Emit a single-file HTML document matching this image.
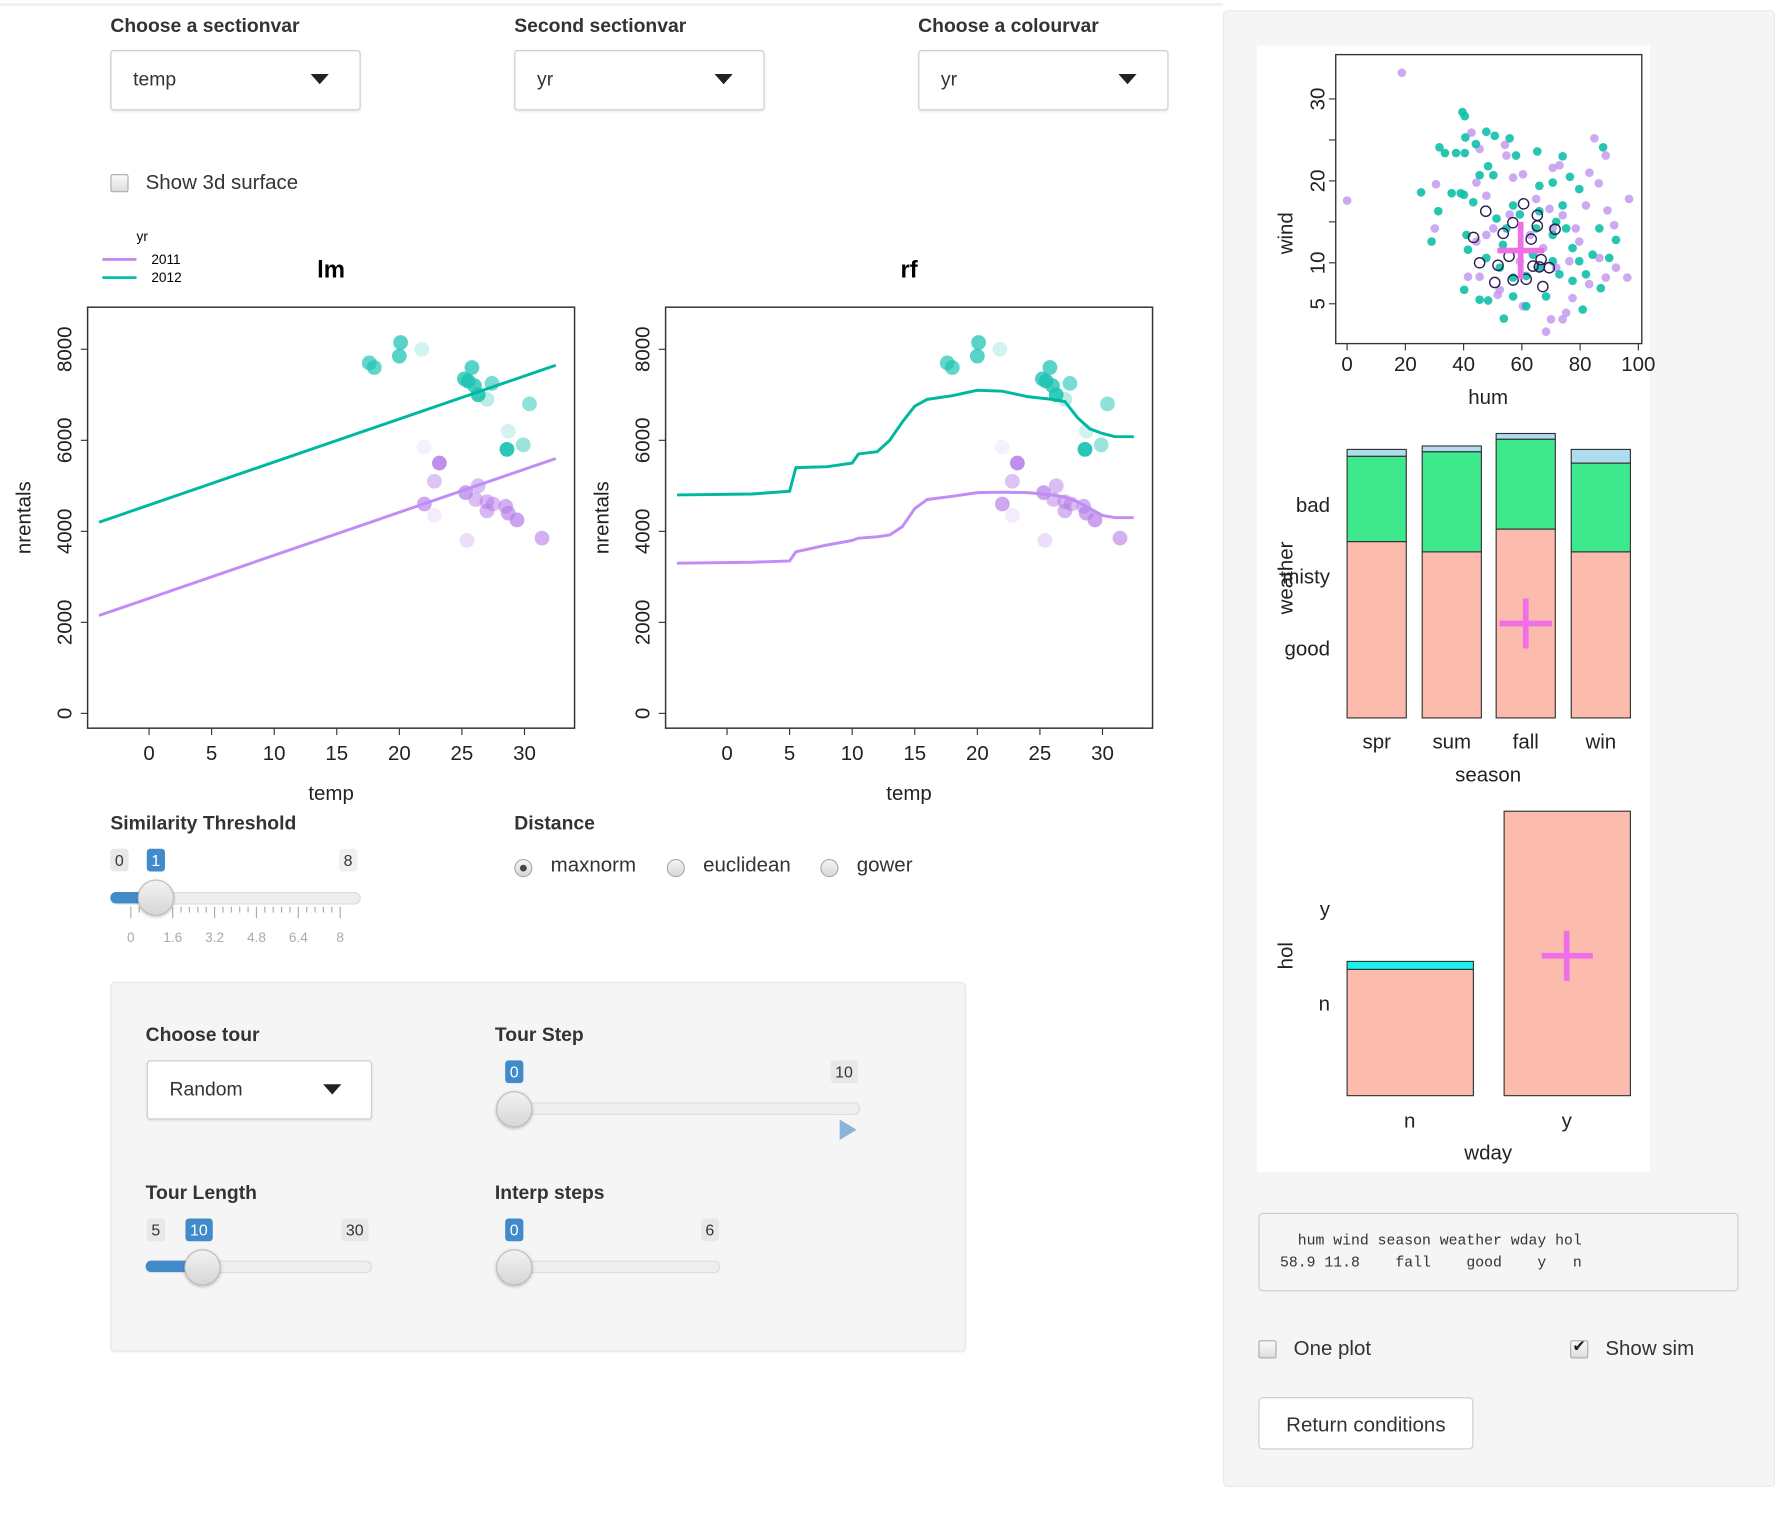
<!DOCTYPE html>
<html><head><meta charset="utf-8">
<style>
html,body{margin:0;padding:0;background:#fff;overflow:hidden;}
body{width:1784px;height:1526px;font-family:"Liberation Sans",sans-serif;color:#333;}
#wrap{position:absolute;left:0;top:0;width:1568px;height:1341px;transform:scale(1.13776);transform-origin:0 0;}
.a{position:absolute;}
.lbl{position:absolute;font-weight:bold;font-size:17px;color:#333;}
.sel{position:absolute;border:1px solid #ccc;border-radius:3px;background:#fff;box-shadow:0 1px 2px rgba(0,0,0,.08);font-size:17px;}
.sel span{position:absolute;left:19px;top:15px;}
.tri{position:absolute;width:0;height:0;border-left:8px solid transparent;border-right:8px solid transparent;border-top:9px solid #222;}
.cb{position:absolute;width:14px;height:14px;border:1px solid #aaa;border-radius:2px;background:linear-gradient(#fafafa,#ddd);}
.txt{position:absolute;font-size:18px;color:#333;}
.num{position:absolute;font-size:14px;padding:2px 4px;border-radius:3px;background:#e8e8e8;color:#333;}
.num.b{background:#428bca;color:#fff;}
.track{position:absolute;height:9px;border:1px solid #ddd;border-radius:5px;background:#eee;}
.fill{position:absolute;height:10px;border-radius:5px 0 0 5px;background:#428bca;}
.knob{position:absolute;width:30px;height:30px;border-radius:50%;border:1px solid #bbb;background:linear-gradient(#f2f2f2,#d6d6d6);box-shadow:0 1px 3px rgba(0,0,0,.25);}
.radio{position:absolute;width:14px;height:14px;border-radius:50%;border:1px solid #aaa;background:linear-gradient(#f4f4f4,#d8d8d8);}
svg text{font-family:"Liberation Sans",sans-serif;}
</style></head><body>
<div id="wrap">
<div class="a" style="left:0;top:3px;width:1075px;height:2px;background:#eee"></div>

<div class="lbl" style="left:97px;top:13px">Choose a sectionvar</div>
<div class="sel" style="left:97px;top:44px;width:218px;height:51px"><span>temp</span><div class="tri" style="left:175px;top:20px"></div></div>
<div class="lbl" style="left:452px;top:13px">Second sectionvar</div>
<div class="sel" style="left:452px;top:44px;width:218px;height:51px"><span>yr</span><div class="tri" style="left:175px;top:20px"></div></div>
<div class="lbl" style="left:807px;top:13px">Choose a colourvar</div>
<div class="sel" style="left:807px;top:44px;width:218px;height:51px"><span>yr</span><div class="tri" style="left:175px;top:20px"></div></div>

<div class="cb" style="left:97px;top:153px"></div>
<div class="txt" style="left:128px;top:150px">Show 3d surface</div>

<svg class="a" style="left:0;top:0" width="1075" height="720">
<g id="legend">
<text x="120" y="212" font-size="12" fill="#000">yr</text>
<line x1="90" y1="228" x2="120" y2="228" stroke="#c08cf5" stroke-width="2.5"/>
<line x1="90" y1="244" x2="120" y2="244" stroke="#00bfa5" stroke-width="2.5"/>
<text x="133" y="232" font-size="12" fill="#000">2011</text>
<text x="133" y="248" font-size="12" fill="#000">2012</text>
</g>
<g id="lm"></g><g id="rf"></g>
</svg>

<div class="lbl" style="left:97px;top:714px">Similarity Threshold</div>
<div class="num" style="left:97px;top:746px">0</div>
<div class="num b" style="left:129px;top:746px">1</div>
<div class="num" style="left:298px;top:746px;background:#f0f0f0">8</div>
<div class="track" style="left:97px;top:784px;width:218px"></div>
<div class="fill" style="left:97px;top:784px;width:40px"></div>
<svg class="a" style="left:97px;top:794px" width="230" height="40" id="simticks"></svg>
<div class="knob" style="left:121px;top:773px"></div>

<div class="lbl" style="left:452px;top:714px">Distance</div>
<div class="radio" style="left:452px;top:755px"><div style="position:absolute;left:4px;top:4px;width:6px;height:6px;border-radius:50%;background:#444"></div></div>
<div class="txt" style="left:484px;top:750px">maxnorm</div>
<div class="radio" style="left:586px;top:755px"></div>
<div class="txt" style="left:618px;top:750px">euclidean</div>
<div class="radio" style="left:721px;top:755px"></div>
<div class="txt" style="left:753px;top:750px">gower</div>

<div class="a" style="left:97px;top:863px;width:750px;height:323px;background:#f5f5f5;border:1px solid #e6e6e6;border-radius:4px;box-shadow:0 1px 2px rgba(0,0,0,.05)"></div>
<div class="lbl" style="left:128px;top:900px">Choose tour</div>
<div class="sel" style="left:129px;top:932px;width:196px;height:50px"><span>Random</span><div class="tri" style="left:154px;top:20px"></div></div>
<div class="lbl" style="left:435px;top:900px">Tour Step</div>
<div class="num b" style="left:444px;top:932px">0</div>
<div class="num" style="left:730px;top:932px">10</div>
<div class="track" style="left:452px;top:969px;width:302px"></div>
<div class="knob" style="left:436px;top:959px"></div>
<div class="a" style="left:738px;top:984px;width:0;height:0;border-top:9px solid transparent;border-bottom:9px solid transparent;border-left:15px solid #8db3d9"></div>
<div class="lbl" style="left:128px;top:1039px">Tour Length</div>
<div class="num" style="left:129px;top:1071px">5</div>
<div class="num b" style="left:163px;top:1071px">10</div>
<div class="num" style="left:300px;top:1071px">30</div>
<div class="track" style="left:128px;top:1108px;width:197px"></div>
<div class="fill" style="left:128px;top:1108px;width:50px"></div>
<div class="knob" style="left:162px;top:1098px"></div>
<div class="lbl" style="left:435px;top:1039px">Interp steps</div>
<div class="num b" style="left:444px;top:1071px">0</div>
<div class="num" style="left:616px;top:1071px">6</div>
<div class="track" style="left:452px;top:1108px;width:179px"></div>
<div class="knob" style="left:436px;top:1098px"></div>

<div class="a" style="left:1075px;top:9px;width:483px;height:1296px;background:#f5f5f5;border:1px solid #e8e8e8;border-radius:4px"></div>
<div class="a" style="left:1105px;top:40px;width:345px;height:990px;background:#fff"></div>
<svg class="a" style="left:1100px;top:30px" width="370" height="1010">
<g id="scat"></g><g id="mos1"></g><g id="mos2"></g>
</svg>

<div class="a" style="left:1106px;top:1066px;width:422px;height:69px;border:1px solid #ccc;border-radius:4px;background:#f5f5f5;font-family:'Liberation Mono',monospace;font-size:13px;line-height:19px;color:#333;white-space:pre;padding:14px 0 0 18px;box-sizing:border-box">  hum wind season weather wday hol
58.9 11.8    fall    good    y   n</div>

<div class="cb" style="left:1106px;top:1178px"></div>
<div class="txt" style="left:1137px;top:1175px">One plot</div>
<div class="cb" style="left:1380px;top:1178px"><div style="position:absolute;left:1px;top:-4px;font-size:14px;color:#222">✔</div></div>
<div class="txt" style="left:1411px;top:1175px">Show sim</div>
<div class="a" style="left:1106px;top:1228px;width:189px;height:46px;border:1px solid #ccc;border-radius:4px;background:#fff;font-size:18px;text-align:center;line-height:46px;box-sizing:border-box">Return conditions</div>
</div>

<script>
// ---- section plot data ----
const lmXTicks=[0,5,10,15,20,25,30];
const lmYTicks=[0,2000,4000,6000,8000];
const lmLine2011=[[-4,2150],[32.5,5600]];
const lmLine2012=[[-4,4200],[32.5,7650]];
const rfX=[-4,2,5,5.5,8,10,10.5,12,13,14,15,16,18,20,22,24,26,27,28,29,30,31,32.5];
const rf2012=[4800,4820,4880,5400,5420,5500,5700,5750,6000,6400,6750,6900,6980,7100,7080,6960,6900,6850,6500,6250,6150,6080,6080];
const rf2011=[3300,3320,3350,3550,3700,3800,3850,3880,3920,4100,4500,4700,4770,4850,4860,4850,4800,4750,4650,4500,4350,4300,4300];
const pts2012x=[17.6,18,20.1,20,21.8,25.2,25.8,25.5,26,26.3,27.4,27,30.4,28.7,29.9,28.6];
const pts2012y=[7700,7600,8150,7850,8000,7350,7600,7300,7200,7000,7250,6900,6800,6200,5900,5800];
const pts2012a=[0.7,0.7,0.75,0.75,0.2,0.8,0.75,0.85,0.8,0.9,0.6,0.3,0.5,0.2,0.45,0.95];
const pts2011x=[23.2,22.8,22,25.3,26.3,26.1,27,27.5,27,28.5,28.7,29.4,31.4,25.4,22.8,22];
const pts2011y=[5500,5100,4600,4850,5000,4700,4650,4600,4450,4550,4400,4250,3850,3800,4350,5850];
const pts2011a=[0.85,0.45,0.65,0.7,0.5,0.5,0.55,0.5,0.55,0.6,0.65,0.7,0.6,0.25,0.15,0.12];

// ---- condition plot data ----
const scatXTicks=[0,20,40,60,80,100];
const scatYTicks=[5,10,20,30];
const tealHum=[39.6,40.4,40.6,47.8,50.7,55.8,31.7,33.6,37.4,40.4,44.2,58,65.3,74,87.9,48.4,76.5,25.4,35.9,39,31.3,29,92.3,40.2,53.8,87.1,79.7,66,70.6,74,57,51.3,54.7,41,41.5,47.8,52.4,57,61.5,66,70.6,72.9,77.4,79.7,82,84.3,86.6,80.9,68.3,61.5,57,45.5,48.4,64.9,70.6,59.3,66,45.5,50.2,43.3,75.2,90,40.1,63.8,53.5,71.8,77.4];
const tealWind=[28.4,27.9,25.3,26,25.5,25.2,24.1,23.4,23.4,23.4,24.5,23.1,23.6,23,24.1,21.8,20.5,18.6,18.5,18.5,16.3,12.6,12.8,6.7,3.2,6.9,19,19.4,19.8,17,17,15.4,14.2,13.4,11.6,10.6,9.4,8.2,8.4,9.4,10.2,8.6,7.8,10.2,8.6,11,14.2,4.3,5.9,4.7,5.9,5.5,5.4,14.2,13.4,15.9,16.3,20.7,20.7,17.4,14.2,10.6,18.3,11,12.2,15,11.8];
const purpHum=[18.8,0,30.5,30.1,42.7,45.5,54.7,54.2,84.9,88.8,83.2,86.4,96.8,70.6,72.9,60.4,57,44.4,47.8,64.9,69.5,74,78.5,82,89.4,91.7,86.6,92.3,96.2,88.8,83.1,75.2,74,70,68.3,60.4,52.4,41.5,45.5,51.7,59.3,62.8,67.3,71.8,76.3,55.8,50.2,44.4,47.8,70.6,79.7,77.4];
const purpWind=[33.2,17.6,19.6,14.2,25.9,23.9,23.1,24.4,25.2,23.1,21,19.7,17.8,21.6,21.9,20.8,20.4,19.8,18.2,17.8,16.6,15.8,14.2,17,16.4,14.6,10.6,9.4,8.2,8.2,7.4,3.9,3.1,3.1,1.6,4.7,6.7,8.3,8.3,6.1,10.2,13.4,11.8,9.4,10.2,15.9,14.2,12.6,13.4,14.2,12.6,5.7];
const simHum=[47.6,60.6,65.3,65.3,71.4,43.4,53.6,56.9,45.5,51.8,55.6,50.7,57,61.5,63.8,66.6,69.4,67.2,63.2,66];
const simWind=[16.3,17.2,15.8,14.5,14.1,13.1,13.6,14.9,10,9.7,10.8,7.6,7.9,8,9.6,10.4,9.4,7.1,12.9,9.5];
const curHum=59.6, curWind=11.5;
const seasons=["spr","sum","fall","win"];
const weatherLevels=["good","misty","bad"];
const wGood=[155,146,166,146];
const wMisty=[75,88,79,78];
const wBad=[6,5,5,12];
const wdayCats=["n","y"];
const holN=[111,250];
const holY=[7,0];
const simTickLabels=["0","1.6","3.2","4.8","6.4","8"];

const NS="http://www.w3.org/2000/svg";
function mk(parent,tag,attrs,text){const e=document.createElementNS(NS,tag);for(const k in attrs)e.setAttribute(k,attrs[k]);if(text!==undefined)e.textContent=text;parent.appendChild(e);return e;}

function sectionPlot(gid,x0,title,curveX,c2012,c2011,isLm){
  const g=document.getElementById(gid);
  const L=x0,R=x0+428,T=270,B=640;
  const sx=v=>x0+54+v*11, sy=v=>627-v*0.04;
  const bx=mk(g,'rect',{x:L,y:T,width:R-L,height:B-T,fill:'none',stroke:'#333','stroke-width':1.3});
  
  const t=mk(g,'text',{x:x0+214,y:244,'text-anchor':'middle','font-size':21,'font-weight':'bold',fill:'#000'},title);
  
  lmXTicks.forEach(v=>{mk(g,'line',{x1:sx(v),y1:B,x2:sx(v),y2:B+6,stroke:'#333'});
    const l=mk(g,'text',{x:sx(v),y:668,'text-anchor':'middle','font-size':18,fill:'#222'},v);
    });
  lmYTicks.forEach(v=>{mk(g,'line',{x1:L,y1:sy(v),x2:L-6,y2:sy(v),stroke:'#333'});
    const l=mk(g,'text',{x:0,y:0,'text-anchor':'middle','font-size':18,fill:'#222',transform:`translate(${L-14},${sy(v)}) rotate(-90)`},v);
    });
  const xt=mk(g,'text',{x:x0+214,y:703,'text-anchor':'middle','font-size':18,fill:'#222'},'temp');
  
  const yt=mk(g,'text',{x:0,y:0,'text-anchor':'middle','font-size':18,fill:'#222',transform:`translate(${x0-50},455) rotate(-90)`},'nrentals');
  
  const dots=(xs,ys,as,col,name)=>xs.forEach((v,i)=>{const c=mk(g,'circle',{cx:sx(v),cy:sy(ys[i]),r:6.5,fill:col,'fill-opacity':as[i]});
    });
  dots(pts2012x,pts2012y,pts2012a,'#1fc4b4','point-2012');
  dots(pts2011x,pts2011y,pts2011a,'#b57be8','point-2011');
  const line=(xs,ys,col,name)=>{const p=mk(g,'polyline',{points:xs.map((v,i)=>sx(v)+','+sy(ys[i])).join(' '),fill:'none',stroke:col,'stroke-width':2.6});
    };
  if(isLm){
    line(lmLine2012.map(p=>p[0]),lmLine2012.map(p=>p[1]),'#00b89f','fit-line-2012');
    line(lmLine2011.map(p=>p[0]),lmLine2011.map(p=>p[1]),'#c08cf5','fit-line-2011');
  } else {
    line(curveX,c2012,'#00b89f','fit-line-2012');
    line(curveX,c2011,'#c08cf5','fit-line-2011');
  }
}
sectionPlot('lm',77,'lm',null,null,null,true);
sectionPlot('rf',585,'rf',rfX,rf2012,rf2011,false);

// similarity ticks
(function(){const s=document.getElementById('simticks');
  for(let i=0;i<=25;i++){const x=18+i*7.36;mk(s,'line',{x1:x,y1:3,x2:x,y2:i%5==0?13:8,stroke:'#aaa'});}
  simTickLabels.forEach((t,i)=>{const l=mk(s,'text',{x:18+i*36.8,y:34,'text-anchor':'middle','font-size':12,fill:'#aaa'},t);
    });
})();

// scatter (svg offset 1100,30)
(function(){const g=document.getElementById('scat');const ox=1100,oy=30;
  const sx=v=>1184+v*2.56-ox, sy=v=>267-(v-5)*7.2-oy;
  const b=mk(g,'rect',{x:1174-ox,y:48-oy,width:269,height:254,fill:'none',stroke:'#333','stroke-width':1.2});
  
  scatXTicks.forEach(v=>{mk(g,'line',{x1:sx(v),y1:302-oy,x2:sx(v),y2:308-oy,stroke:'#333'});
    const l=mk(g,'text',{x:sx(v),y:326-oy,'text-anchor':'middle','font-size':18,fill:'#222'},v);
    });
  scatYTicks.concat([15,25]).forEach(v=>mk(g,'line',{x1:1174-ox,y1:sy(v),x2:1168-ox,y2:sy(v),stroke:'#333'}));
  scatYTicks.forEach(v=>{const l=mk(g,'text',{x:0,y:0,'text-anchor':'middle','font-size':18,fill:'#222',transform:`translate(${1164-ox},${sy(v)}) rotate(-90)`},v);
    });
  const xt=mk(g,'text',{x:1308-ox,y:355-oy,'text-anchor':'middle','font-size':18,fill:'#222'},'hum');
  
  const yt=mk(g,'text',{x:0,y:0,'text-anchor':'middle','font-size':18,fill:'#222',transform:`translate(${1136-ox},175) rotate(-90)`},'wind');
  
  purpHum.forEach((v,i)=>{const c=mk(g,'circle',{cx:sx(v),cy:sy(purpWind[i]),r:3.8,fill:'#c49af0','fill-opacity':0.85});
    });
  tealHum.forEach((v,i)=>{const c=mk(g,'circle',{cx:sx(v),cy:sy(tealWind[i]),r:3.8,fill:'#10c0a8','fill-opacity':0.9});
    });
  simHum.forEach((v,i)=>{const c=mk(g,'circle',{cx:sx(v),cy:sy(simWind[i]),r:4.5,fill:'none',stroke:'#2a1a50','stroke-width':1.2});
    });
  const p=mk(g,'path',{d:`M${sx(curHum-8)},${sy(curWind)}H${sx(curHum+8)}M${sx(curHum)},${sy(curWind-3.5)}V${sy(curWind+3.5)}`,stroke:'#f06ee8','stroke-width':5});
  
})();

// mosaic 1
(function(){const g=document.getElementById('mos1');const ox=1100,oy=30;
  const bx=[1184,1250,1315,1381],bw=52,base=631;
  seasons.forEach((s,i)=>{let y=base;
    [[wGood[i],'#fbbcae','good'],[wMisty[i],'#3ee98d','misty'],[wBad[i],'#b0dcef','bad']].forEach(([h,c,n])=>{
      y-=h;const r=mk(g,'rect',{x:bx[i]-ox,y:y-oy,width:bw,height:h,fill:c,stroke:'#333','stroke-width':1});
      });
    const l=mk(g,'text',{x:bx[i]+26-ox,y:658-oy,'text-anchor':'middle','font-size':18,fill:'#222'},s);
    });
  [[570,'good'],[507,'misty'],[444,'bad']].forEach(([y,t])=>{const l=mk(g,'text',{x:1169-ox,y:y+6-oy,'text-anchor':'end','font-size':18,fill:'#222'},t);
    });
  const st=mk(g,'text',{x:1308-ox,y:687-oy,'text-anchor':'middle','font-size':18,fill:'#222'},'season');
  
  const wt=mk(g,'text',{x:0,y:0,'text-anchor':'middle','font-size':18,fill:'#222',transform:`translate(${1136-ox},${508-oy}) rotate(-90)`},'weather');
  
  const p=mk(g,'path',{d:`M${1318-ox},${548-oy}H${1364-ox}M${1341-ox},${526-oy}V${570-oy}`,stroke:'#f06ee8','stroke-width':5});
  
})();

// mosaic 2
(function(){const g=document.getElementById('mos2');const ox=1100,oy=30;
  const bx=[1184,1322],bw=111,base=963;
  wdayCats.forEach((w,i)=>{let y=base;
    [[holN[i],'#fbbcae','n'],[holY[i],'#19f0f0','y']].forEach(([h,c,n])=>{
      if(h<=0)return;y-=h;const r=mk(g,'rect',{x:bx[i]-ox,y:y-oy,width:bw,height:h,fill:c,stroke:'#333','stroke-width':1});
      });
    const l=mk(g,'text',{x:bx[i]+55-ox,y:991-oy,'text-anchor':'middle','font-size':18,fill:'#222'},w);
    });
  [[882,'n'],[799,'y']].forEach(([y,t])=>{const l=mk(g,'text',{x:1169-ox,y:y+6-oy,'text-anchor':'end','font-size':18,fill:'#222'},t);
    });
  const st=mk(g,'text',{x:1308-ox,y:1019-oy,'text-anchor':'middle','font-size':18,fill:'#222'},'wday');
  
  const wt=mk(g,'text',{x:0,y:0,'text-anchor':'middle','font-size':18,fill:'#222',transform:`translate(${1136-ox},${840-oy}) rotate(-90)`},'hol');
  
  const p=mk(g,'path',{d:`M${1355-ox},${840-oy}H${1400-ox}M${1377-ox},${818-oy}V${862-oy}`,stroke:'#f06ee8','stroke-width':5});
  
})();
</script>
</body></html>
